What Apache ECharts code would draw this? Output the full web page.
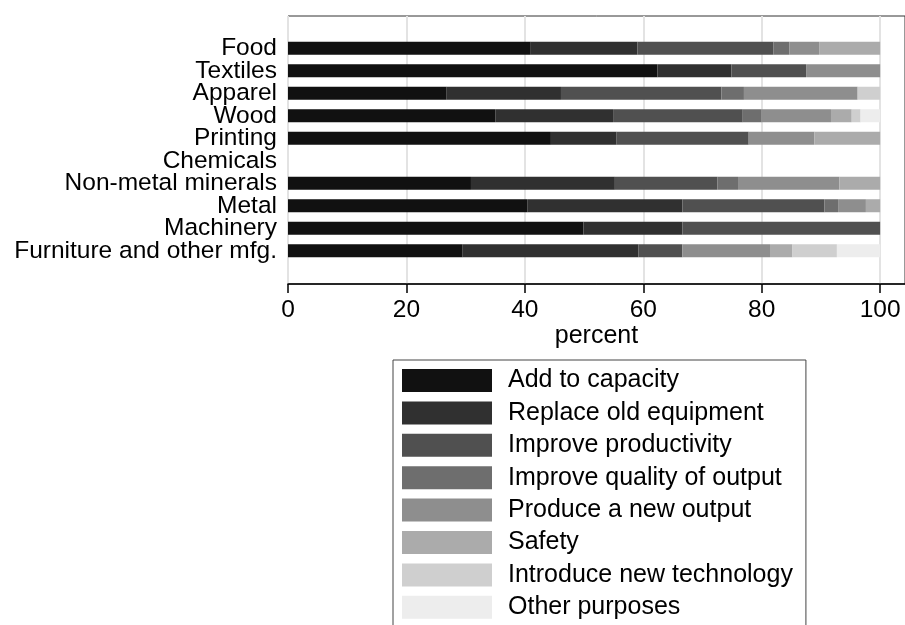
<!DOCTYPE html>
<html><head><meta charset="utf-8">
<script src="https://cdn.jsdelivr.net/npm/echarts@6/dist/echarts.min.js"></script>
<style>html,body{margin:0;padding:0;background:#fff}#c{width:905px;height:625px}</style>
</head><body><div id="c"></div>
<script>
const categories = ['Food','Textiles','Apparel','Wood','Printing','Chemicals','Non-metal minerals','Metal','Machinery','Furniture and other mfg.'];
const seriesNames = ['Add to capacity','Replace old equipment','Improve productivity','Improve quality of output','Produce a new output','Safety','Introduce new technology','Other purposes'];
const addCapacity   = [41.0, 62.4, 26.8, 35.0, 44.4, 0, 30.9, 40.4, 49.9, 29.5];
const replaceOld    = [18.0, 12.5, 19.3, 19.9, 11.1, 0, 24.3, 26.2, 16.7, 29.7];
const improveProd   = [23.0, 12.6, 27.1, 21.9, 22.3, 0, 17.3, 24.0, 33.4, 7.4];
const improveQual   = [2.7, 0, 3.8, 3.2, 0, 0, 3.5, 2.3, 0, 0];
const newOutput     = [5.0, 12.5, 19.2, 11.7, 11.1, 0, 17.1, 4.7, 0, 14.8];
const safety        = [10.3, 0, 0, 3.5, 11.1, 0, 6.9, 2.4, 0, 3.8];
const newTech       = [0, 0, 3.8, 1.5, 0, 0, 0, 0, 0, 7.5];
const otherPurposes = [0, 0, 0, 3.3, 0, 0, 0, 0, 0, 7.3];
const xTicks = [0, 20, 40, 60, 80, 100];

const values = [addCapacity, replaceOld, improveProd, improveQual, newOutput, safety, newTech, otherPurposes];
const colors = ['#111111','#303030','#505050','#6e6e6e','#8e8e8e','#ababab','#cfcfcf','#ededed'];
const FF = '"Liberation Sans", Arial, sans-serif';

const chart = echarts.init(document.getElementById('c'), null, {renderer:'canvas'});
chart.setOption({
  animation: false,
  backgroundColor: '#fff',
  grid: [
    {left: 288, right: -1, top: 16, bottom: 341, show: true, borderColor: '#333', borderWidth: 1, backgroundColor: 'transparent'},
    {left: 288, right: -1, top: 37, bottom: 363}
  ],
  xAxis: [
    {gridIndex: 0, type: 'value', min: 0, max: 104.2, interval: 20,
     name: 'percent', nameLocation: 'middle', nameGap: 34,
     nameTextStyle: {fontSize: 25, color: '#000', fontFamily: FF},
     axisLine: {show: true, lineStyle: {color: '#000', width: 1.5}},
     axisTick: {show: true, length: 9, customValues: xTicks, lineStyle: {color: '#000', width: 1.5}},
     axisLabel: {show: true, customValues: xTicks, margin: 14, fontSize: 24.5, color: '#000', fontFamily: FF},
     splitLine: {show: true, lineStyle: {color: '#e3e3e3', width: 2}}},
    {gridIndex: 1, type: 'value', min: 0, max: 104.2, show: false, splitLine: {show: false}}
  ],
  yAxis: [
    {gridIndex: 0, type: 'value', show: false, splitLine: {show: false}},
    {gridIndex: 1, type: 'category', data: categories, inverse: true,
     axisLine: {show: false}, axisTick: {show: false},
     axisLabel: {interval: 0, margin: 11, fontSize: 24.5, color: '#000', fontFamily: FF}}
  ],
  legend: {
    orient: 'vertical', left: 393, top: 360, height: 290,
    padding: [8, 13, 8, 9],
    itemWidth: 90, itemHeight: 23, itemGap: 7.4,
    borderColor: '#444', borderWidth: 1,
    icon: 'rect',
    textStyle: {fontSize: 25, color: '#000', fontFamily: FF, padding: [0, 0, 0, 11]},
    data: seriesNames
  },
  series: seriesNames.map((n, i) => ({
    name: n, type: 'bar', stack: 'total', xAxisIndex: 1, yAxisIndex: 1,
    barWidth: 13, data: values[i],
    itemStyle: {color: colors[i]}
  }))
});
</script></body></html>
